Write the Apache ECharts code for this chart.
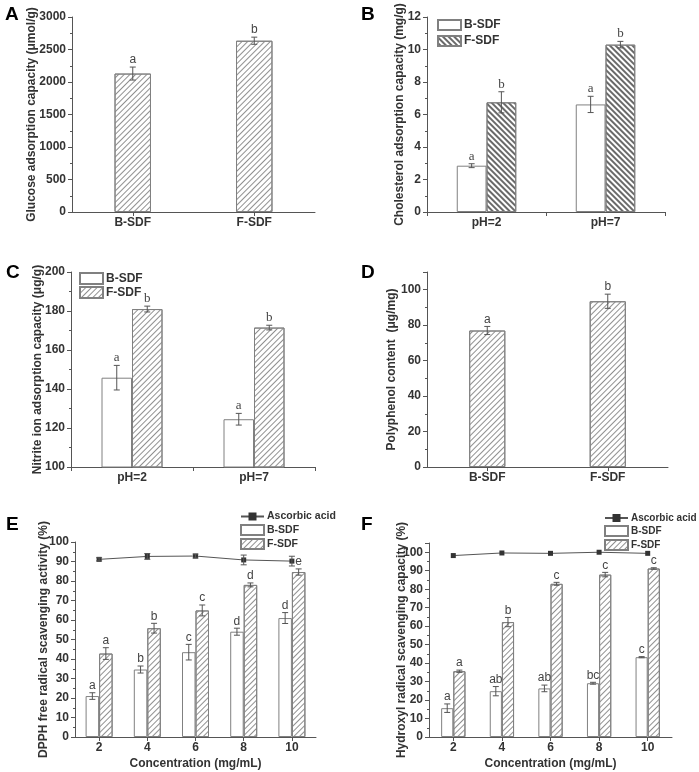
<!DOCTYPE html>
<html>
<head>
<meta charset="utf-8">
<script src="https://cdn.jsdelivr.net/npm/echarts@6/dist/echarts.min.js"></script>
<style>
html,body{margin:0;padding:0;background:#fff;}
#chart{width:699px;height:772px;}
</style>
</head>
<body>
<div id="chart"></div>
<script>
// ---------- DATA ----------
const catSample = ['B-SDF', 'F-SDF'];
const glucose = [2130, 2635];
const glucoseErr = [100, 55];
const glucoseSig = ['a', 'b'];

const catPH = ['pH=2', 'pH=7'];
const cholB = [2.85, 6.62];
const cholBErr = [0.12, 0.5];
const cholBSig = ['a', 'a'];
const cholF = [6.75, 10.3];
const cholFErr = [0.65, 0.2];
const cholFSig = ['b', 'b'];

const nitB = [145.8, 124.5];
const nitBErr = [6.3, 3.0];
const nitBSig = ['a', 'a'];
const nitF = [181, 171.5];
const nitFErr = [1.5, 1.2];
const nitFSig = ['b', 'b'];

const poly = [77, 93.5];
const polyErr = [2.3, 4.0];
const polySig = ['a', 'b'];

const conc = ['2', '4', '6', '8', '10'];
const dpphAsc = [91.1, 92.6, 92.8, 90.8, 90.2];
const dpphAscErr = [0.8, 1.5, 1.0, 2.5, 2.5];
const dpphB = [21.0, 34.6, 43.5, 54.0, 61.0];
const dpphBErr = [1.7, 1.8, 4.0, 1.8, 2.8];
const dpphBSig = ['a', 'b', 'c', 'd', 'd'];
const dpphF = [42.8, 55.8, 64.9, 78.0, 84.6];
const dpphFErr = [3.0, 2.5, 2.8, 1.0, 1.6];
const dpphFSig = ['a', 'b', 'c', 'd', 'e'];

const hydAsc = [98.2, 99.6, 99.4, 100.0, 99.4];
const hydB = [15.6, 24.8, 26.3, 29.1, 43.2];
const hydBErr = [2.3, 2.5, 1.8, 0.5, 0.3];
const hydBSig = ['a', 'ab', 'ab', 'bc', 'c'];
const hydF = [35.6, 62.2, 82.9, 87.9, 91.2];
const hydFErr = [0.6, 2.5, 0.8, 1.2, 0.4];
const hydFSig = ['a', 'b', 'c', 'c', 'c'];

// ---------- STYLE ----------
const FONT = '"Liberation Sans", Arial, sans-serif';
const SERIF = '"Liberation Serif", "Times New Roman", serif';
const AX = '#555';
const TXT = '#333';

const hatchUp = {symbol: 'rect', symbolSize: 1, dashArrayX: [1, 0], dashArrayY: [1, 2.2], rotation: -Math.PI / 4, color: '#909090'};
const hatchDown = {symbol: 'rect', symbolSize: 1, dashArrayX: [1, 0], dashArrayY: [1.5, 1.8], rotation: Math.PI / 4, color: '#6a6a6a'};

function hatchStyle(decal) {
  return {color: '#fff', borderColor: '#808080', borderWidth: 1, decal: decal};
}
const plainStyle = {color: '#fff', borderColor: '#808080', borderWidth: 1};

function errRenderer(vals, errs, sigs, pos, frac, font) {
  return function (params, api) {
    const i = params.dataIndex;
    const v = vals[i], e = errs[i];
    const band = api.size([1, 0])[0];
    const cx = api.coord([i, v])[0] + pos * band * frac;
    const yTop = api.coord([i, v + e])[1];
    const yBot = api.coord([i, v - e])[1];
    const cap = 3;
    const st = {stroke: '#555', lineWidth: 1};
    const ch = [
      {type: 'line', shape: {x1: cx, y1: yTop, x2: cx, y2: yBot}, style: st},
      {type: 'line', shape: {x1: cx - cap, y1: yTop, x2: cx + cap, y2: yTop}, style: st},
      {type: 'line', shape: {x1: cx - cap, y1: yBot, x2: cx + cap, y2: yBot}, style: st}
    ];
    if (sigs && sigs[i]) {
      ch.push({type: 'text', x: cx, y: yTop - 1,
        style: {text: sigs[i], fill: '#444', font: font || ('12px ' + FONT), align: 'center', verticalAlign: 'bottom'}});
    }
    return {type: 'group', children: ch};
  };
}

function errSeries(idx, vals, errs, sigs, pos, frac, font) {
  return {
    type: 'custom', xAxisIndex: idx, yAxisIndex: idx, z: 6, silent: true,
    renderItem: errRenderer(vals, errs, sigs, pos, frac, font),
    data: vals.map((v, i) => [i, v])
  };
}

function xAx(idx, data, opts) {
  return Object.assign({
    type: 'category', gridIndex: idx, data: data,
    axisLine: {lineStyle: {color: AX, width: 1}},
    axisTick: {show: true, length: 4, lineStyle: {color: AX}},
    axisLabel: {color: TXT, fontSize: 12, fontWeight: 'bold', fontFamily: FONT, margin: 5},
    splitLine: {show: false}
  }, opts || {});
}
function yAx(idx, min, max, interval, name, gap, hideMax) {
  return {
    type: 'value', gridIndex: idx, min: min, max: max, interval: interval,
    name: name, nameLocation: 'middle', nameGap: gap, nameMoveOverlap: false,
    nameTextStyle: {color: TXT, fontSize: 12, fontWeight: 'bold', fontFamily: FONT},
    axisLine: {show: true, lineStyle: {color: AX, width: 1}},
    axisTick: {show: true, length: 4, lineStyle: {color: AX}},
    minorTick: {show: true, splitNumber: 2, length: 2, lineStyle: {color: AX}},
    axisLabel: {color: TXT, fontSize: 12, fontWeight: 'bold', fontFamily: FONT, margin: 6,
      showMaxLabel: !hideMax, formatter: v => String(v)},
    splitLine: {show: false}
  };
}
function legend(left, top, data, gap, ih, fs) {
  return {
    left: left, top: top, orient: 'vertical', padding: 0, itemGap: gap,
    itemWidth: 23, itemHeight: ih, selectedMode: false,
    data: data.map(n => n.indexOf('Ascorbic') === 0 ? {name: n} : {name: n, icon: 'rect'}),
    formatter: n => n.split('#')[0],
    textStyle: {color: TXT, fontSize: fs || 12, fontWeight: 'bold', fontFamily: FONT, padding: [0, 0, 0, -2]}
  };
}
function panelTitle(t, left, top) {
  return {text: t, left: left, top: top, padding: 0,
    textStyle: {color: '#000', fontSize: 19, fontWeight: 'bold', fontFamily: FONT}};
}

const option = {
  animation: false,
  backgroundColor: '#fff',
  title: [
    panelTitle('A', 5, 5), panelTitle('B', 361, 5),
    panelTitle('C', 6, 263), panelTitle('D', 361, 263),
    panelTitle('E', 6, 515), panelTitle('F', 361, 515)
  ],
  grid: [
    {left: 72, top: 17, width: 243, height: 195},
    {left: 427, top: 17, width: 238, height: 195},
    {left: 71, top: 272, width: 244, height: 195},
    {left: 427, top: 272, width: 241, height: 195},
    {left: 75, top: 542, width: 241, height: 195},
    {left: 429, top: 543, width: 243, height: 194}
  ],
  legend: [
    legend(437, 19, ['B-SDF#B', 'F-SDF#B'], 4, 10, 12),
    legend(79, 272, ['B-SDF#C', 'F-SDF#C'], 1, 11, 12),
    legend(240, 511, ['Ascorbic acid#E', 'B-SDF#E', 'F-SDF#E'], 2, 10, 10.5),
    legend(604, 513, ['Ascorbic acid#F', 'B-SDF#F', 'F-SDF#F'], 2, 10, 10)
  ],
  xAxis: [
    xAx(0, catSample, {axisTick: {show: true, alignWithLabel: true, length: 4, lineStyle: {color: AX}}}),
    xAx(1, catPH),
    xAx(2, catPH),
    xAx(3, catSample, {axisTick: {show: true, alignWithLabel: true, length: 4, lineStyle: {color: AX}}}),
    xAx(4, conc, {name: 'Concentration (mg/mL)', nameLocation: 'middle', nameGap: 21, nameMoveOverlap: false,
      nameTextStyle: {color: TXT, fontSize: 12, fontWeight: 'bold', fontFamily: FONT},
      axisTick: {show: true, alignWithLabel: true, length: 4, lineStyle: {color: AX}}}),
    xAx(5, conc, {name: 'Concentration (mg/mL)', nameLocation: 'middle', nameGap: 21, nameMoveOverlap: false,
      nameTextStyle: {color: TXT, fontSize: 12, fontWeight: 'bold', fontFamily: FONT},
      axisTick: {show: true, alignWithLabel: true, length: 4, lineStyle: {color: AX}}})
  ],
  yAxis: [
    yAx(0, 0, 3000, 500, 'Glucose adsorption capacity (μmol/g)', 34),
    yAx(1, 0, 12, 2, 'Cholesterol adsorption capacity (mg/g)', 21),
    yAx(2, 100, 200, 20, 'Nitrite ion adsorption capacity (μg/g)', 27),
    yAx(3, 0, 110, 20, 'Polyphenol content  (μg/mg)', 29, true),
    yAx(4, 0, 100, 10, 'DPPH free radical scavenging activity (%)', 25),
    yAx(5, 0, 105, 10, 'Hydroxyl radical scavenging capacity (%)', 21, true)
  ],
  series: [
    // A
    {type: 'bar', name: 'Glucose', xAxisIndex: 0, yAxisIndex: 0, data: glucose, barWidth: '30%', itemStyle: hatchStyle(hatchUp)},
    errSeries(0, glucose, glucoseErr, glucoseSig, 0, 0.30),
    // B
    {type: 'bar', name: 'B-SDF#B', xAxisIndex: 1, yAxisIndex: 1, data: cholB, barWidth: '25%', barGap: '0%', itemStyle: plainStyle},
    {type: 'bar', name: 'F-SDF#B', xAxisIndex: 1, yAxisIndex: 1, data: cholF, barWidth: '25%', barGap: '0%', itemStyle: hatchStyle(hatchDown)},
    errSeries(1, cholB, cholBErr, cholBSig, -0.5, 0.25, '13px ' + SERIF),
    errSeries(1, cholF, cholFErr, cholFSig, 0.5, 0.25, '13px ' + SERIF),
    // C
    {type: 'bar', name: 'B-SDF#C', xAxisIndex: 2, yAxisIndex: 2, data: nitB, barWidth: '25%', barGap: '0%', itemStyle: plainStyle},
    {type: 'bar', name: 'F-SDF#C', xAxisIndex: 2, yAxisIndex: 2, data: nitF, barWidth: '25%', barGap: '0%', itemStyle: hatchStyle(hatchUp)},
    errSeries(2, nitB, nitBErr, nitBSig, -0.5, 0.25, '13px ' + SERIF),
    errSeries(2, nitF, nitFErr, nitFSig, 0.5, 0.25, '13px ' + SERIF),
    // D
    {type: 'bar', name: 'Polyphenol', xAxisIndex: 3, yAxisIndex: 3, data: poly, barWidth: '30%', itemStyle: hatchStyle(hatchUp)},
    errSeries(3, poly, polyErr, polySig, 0, 0.30),
    // E
    {type: 'bar', name: 'B-SDF#E', xAxisIndex: 4, yAxisIndex: 4, data: dpphB, barWidth: '28%', barGap: '0%', itemStyle: plainStyle},
    {type: 'bar', name: 'F-SDF#E', xAxisIndex: 4, yAxisIndex: 4, data: dpphF, barWidth: '28%', barGap: '0%', itemStyle: hatchStyle(hatchUp)},
    {type: 'line', name: 'Ascorbic acid#E', xAxisIndex: 4, yAxisIndex: 4, data: dpphAsc, symbol: 'rect', symbolSize: 5,
      itemStyle: {color: '#333'}, lineStyle: {color: '#555', width: 1}, z: 5},
    errSeries(4, dpphB, dpphBErr, dpphBSig, -0.5, 0.28),
    errSeries(4, dpphF, dpphFErr, dpphFSig, 0.5, 0.28),
    errSeries(4, dpphAsc, dpphAscErr, null, 0, 0.28),
    // F
    {type: 'bar', name: 'B-SDF#F', xAxisIndex: 5, yAxisIndex: 5, data: hydB, barWidth: '25%', barGap: '0%', itemStyle: plainStyle},
    {type: 'bar', name: 'F-SDF#F', xAxisIndex: 5, yAxisIndex: 5, data: hydF, barWidth: '25%', barGap: '0%', itemStyle: hatchStyle(hatchUp)},
    {type: 'line', name: 'Ascorbic acid#F', xAxisIndex: 5, yAxisIndex: 5, data: hydAsc, symbol: 'rect', symbolSize: 5,
      itemStyle: {color: '#333'}, lineStyle: {color: '#555', width: 1}, z: 5},
    errSeries(5, hydB, hydBErr, hydBSig, -0.5, 0.25),
    errSeries(5, hydF, hydFErr, hydFSig, 0.5, 0.25)
  ]
};

const chart = echarts.init(document.getElementById('chart'), null, {renderer: 'canvas'});
chart.setOption(option);
</script>
</body>
</html>
